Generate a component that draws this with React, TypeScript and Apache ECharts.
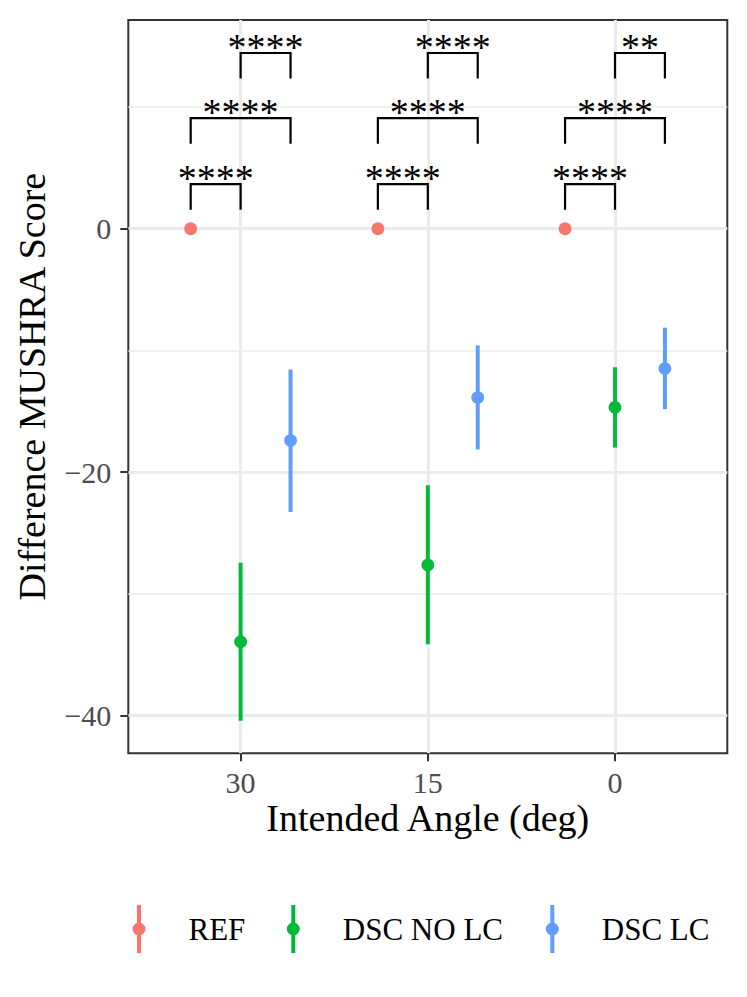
import React, { useEffect, useRef } from "react";
import * as echarts from "echarts";

// ---- data ----
const categories = ["30", "15", "0"];
const groups = ["REF", "DSC NO LC", "DSC LC"];
const groupColors = ["#F8766D", "#00BA38", "#619CFF"];
const dodgeOffsets = [-0.2667, 0, 0.2667];

const refMean = [0, 0, 0];
const refLow = [0, 0, 0];
const refHigh = [0, 0, 0];

const noLcMean = [-33.93, -27.63, -14.68];
const noLcLow = [-40.43, -34.14, -17.98];
const noLcHigh = [-27.44, -21.07, -11.38];

const lcMean = [-17.4, -13.87, -11.49];
const lcLow = [-23.28, -18.14, -14.83];
const lcHigh = [-11.57, -9.58, -8.13];

const yTicks = [-40, -20, 0];
const yMinorTicks = [-30, -10, 10];

// significance brackets: pairs of group indices, bracket heights, labels per category
const bracketPairs = [
  [0, 1],
  [0, 2],
  [1, 2],
];
const bracketHeights = [3.66, 9.08, 14.44];
const bracketTip = 2.1;
const bracketLabels = [
  ["****", "****", "****"],
  ["****", "****", "****"],
  ["****", "****", "**"],
];

const SERIF = "Liberation Serif";

function groupData(mean: number[], low: number[], high: number[], g: number) {
  return mean.map((m, i) => [i + 1 + dodgeOffsets[g], m, low[i], high[i]]);
}

export default function App() {
  const ref = useRef<HTMLDivElement>(null);

  useEffect(() => {
    document.body.style.margin = "0";
    const chart = echarts.init(ref.current!, null, { renderer: "svg" });

    const seriesData = [
      groupData(refMean, refLow, refHigh, 0),
      groupData(noLcMean, noLcLow, noLcHigh, 1),
      groupData(lcMean, lcLow, lcHigh, 2),
    ];

    const bracketData: number[][] = [];
    const bracketText: string[] = [];
    categories.forEach((_, c) => {
      bracketPairs.forEach((pair, k) => {
        bracketData.push([
          c + 1 + dodgeOffsets[pair[0]],
          c + 1 + dodgeOffsets[pair[1]],
          bracketHeights[k],
          bracketHeights[k] - bracketTip,
        ]);
        bracketText.push(bracketLabels[c][k]);
      });
    });

    const pointSeries = groups.map((name, g) => ({
      name,
      type: "custom",
      xAxisIndex: 0,
      yAxisIndex: 0,
      itemStyle: { color: groupColors[g] },
      data: seriesData[g],
      z: 5,
      renderItem: (params: any, api: any) => {
        const x = api.value(0);
        const m = api.value(1);
        const lo = api.value(2);
        const hi = api.value(3);
        const pLo = api.coord([x, lo]);
        const pHi = api.coord([x, hi]);
        const pM = api.coord([x, m]);
        const children: any[] = [];
        if (hi !== lo) {
          children.push({
            type: "line",
            shape: { x1: pLo[0], y1: pLo[1], x2: pHi[0], y2: pHi[1] },
            style: { stroke: groupColors[g], lineWidth: 4 },
          });
        }
        children.push({
          type: "circle",
          shape: { cx: pM[0], cy: pM[1], r: 6.4 },
          style: { fill: groupColors[g] },
        });
        return { type: "group", children };
      },
    }));

    const bracketSeries = {
      name: "brackets",
      type: "custom",
      xAxisIndex: 0,
      yAxisIndex: 0,
      data: bracketData,
      z: 6,
      silent: true,
      renderItem: (params: any, api: any) => {
        const x1 = api.value(0);
        const x2 = api.value(1);
        const y = api.value(2);
        const yt = api.value(3);
        const a = api.coord([x1, yt]);
        const b = api.coord([x1, y]);
        const c = api.coord([x2, y]);
        const d = api.coord([x2, yt]);
        return {
          type: "group",
          children: [
            {
              type: "polyline",
              shape: { points: [a, b, c, d] },
              style: { stroke: "#000", lineWidth: 2.2, fill: null },
            },
            {
              type: "text",
              x: (b[0] + c[0]) / 2,
              y: b[1] - 6,
              style: {
                text: bracketText[params.dataIndex],
                fontSize: 38,
                fontFamily: SERIF,
                fill: "#000",
                align: "center",
                verticalAlign: "middle",
              },
            },
          ],
        };
      },
    };

    const iconPath =
      "path://M-2,-24L2,-24L2,24L-2,24Z M0,-6.5A6.5,6.5,0,1,1,0,6.5A6.5,6.5,0,1,1,0,-6.5Z";
    const legendLefts = [132.5, 286.8, 545.8];
    const legends = groups.map((name, g) => ({
      show: true,
      data: [{ name, icon: iconPath }],
      left: legendLefts[g],
      top: 905,
      padding: 0,
      itemWidth: 13,
      itemHeight: 48,
      selectedMode: false,
      textStyle: {
        fontFamily: SERIF,
        fontSize: 31,
        color: "#000",
        padding: [0, 0, 0, 38],
      },
    }));

    const minusFmt = (v: number) => String(v).replace("-", "\u2212");

    chart.setOption({
      animation: false,
      backgroundColor: "#fff",
      textStyle: { fontFamily: SERIF },
      grid: {
        left: 128.3,
        top: 20,
        width: 599,
        height: 733.3,
        show: true,
        borderColor: "#333333",
        borderWidth: 2,
        backgroundColor: "transparent",
        containLabel: false,
        outerBoundsMode: "none",
      },
      legend: legends,
      xAxis: [
        {
          type: "value",
          min: 0.4,
          max: 3.6,
          position: "bottom",
          axisLine: { show: false, onZero: false },
          axisTick: {
            show: true,
            customValues: [1, 2, 3],
            length: 8,
            lineStyle: { color: "#333333", width: 2 },
          },
          axisLabel: {
            show: true,
            customValues: [1, 2, 3],
            formatter: (v: number) => categories[Math.round(v) - 1] ?? "",
            fontFamily: SERIF,
            fontSize: 30,
            color: "#4D4D4D",
            margin: 14,
          },
          splitLine: { show: true, lineStyle: { color: "#EBEBEB", width: 3 } },
          name: "Intended Angle (deg)",
          nameLocation: "middle",
          nameGap: 46,
          nameMoveOverlap: false,
          nameTextStyle: { fontFamily: SERIF, fontSize: 38, color: "#000", verticalAlign: "top" },
        },
      ],
      yAxis: [
        {
          type: "value",
          min: -43.1,
          max: 17.15,
          position: "left",
          axisLine: { show: false, onZero: false },
          axisTick: {
            show: true,
            customValues: yTicks,
            length: 8,
            lineStyle: { color: "#333333", width: 2 },
          },
          axisLabel: {
            show: true,
            customValues: yTicks,
            formatter: minusFmt,
            fontFamily: SERIF,
            fontSize: 30,
            color: "#4D4D4D",
            margin: 17,
          },
          splitLine: { show: true, lineStyle: { color: "#EBEBEB", width: 3 } },
          name: "Difference MUSHRA Score",
          nameLocation: "middle",
          nameGap: 77,
          nameRotate: 90,
          nameMoveOverlap: false,
          nameTextStyle: { fontFamily: SERIF, fontSize: 38, color: "#000" },
        },
        {
          type: "value",
          min: -43.1,
          max: 17.15,
          position: "left",
          axisLine: { show: false, onZero: false },
          axisTick: { show: false, customValues: yMinorTicks },
          axisLabel: { show: false, customValues: yMinorTicks },
          splitLine: { show: true, lineStyle: { color: "#EBEBEB", width: 1.6 } },
        },
      ],
      series: [...pointSeries, bracketSeries],
    });

    return () => chart.dispose();
  }, []);

  return <div ref={ref} style={{ width: 747, height: 997 }} />;
}
